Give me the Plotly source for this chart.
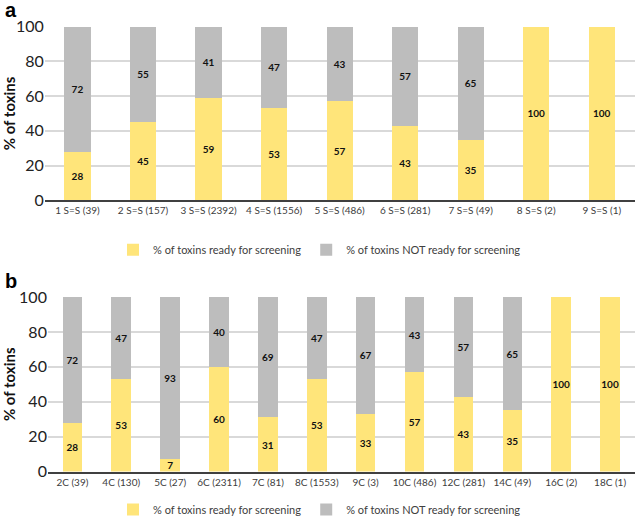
import plotly.graph_objects as go
from plotly.subplots import make_subplots

# panel a: number of S=S bonds (n toxins)
cats_a = ["1 S=S (39)", "2 S=S (157)", "3 S=S (2392)", "4 S=S (1556)", "5 S=S (486)",
          "6 S=S (281)", "7 S=S (49)", "8 S=S (2)", "9 S=S (1)"]
ready_a = [28, 45, 59, 53, 57, 43, 35, 100, 100]
not_ready_a = [72, 55, 41, 47, 43, 57, 65, 0, 0]

# panel b: number of cysteines (n toxins)
cats_b = ["2C (39)", "4C (130)", "5C (27)", "6C (2311)", "7C (81)", "8C (1553)",
          "9C (3)", "10C (486)", "12C (281)", "14C (49)", "16C (2)", "18C (1)"]
ready_b = [28, 53, 7, 60, 31, 53, 33, 57, 43, 35, 100, 100]
not_ready_b = [72, 47, 93, 40, 69, 47, 67, 43, 57, 65, 0, 0]

y_ticks = [0, 20, 40, 60, 80, 100]

YELLOW = "#FFE57A"
GRAY = "#BDBDBD"
FONT = "Lato"


def labels(vals):
    return [str(v) if v else "" for v in vals]


fig = make_subplots(rows=2, cols=1)

panels = [(1, cats_a, ready_a, not_ready_a, "legend"),
          (2, cats_b, ready_b, not_ready_b, "legend2")]
for row, cats, ready, not_ready, leg in panels:
    fig.add_trace(go.Bar(x=cats, y=ready, name="% of toxins ready for screening",
                         marker=dict(color=YELLOW, line_width=0),
                         text=labels(ready), legend=leg), row=row, col=1)
    fig.add_trace(go.Bar(x=cats, y=not_ready, name="% of toxins NOT ready for screening",
                         marker=dict(color=GRAY, line_width=0),
                         text=labels(not_ready), legend=leg), row=row, col=1)

fig.update_traces(textposition="inside", insidetextanchor="middle", constraintext="none",
                  textfont=dict(family=FONT, size=10, color="#111111", weight="bold"),
                  textangle=0, hoverinfo="skip")

legend_style = dict(orientation="h", x=0.5, xanchor="center", yanchor="middle",
                    traceorder="normal", font=dict(size=11, color="#404040"), itemwidth=30)

fig.update_layout(
    width=639, height=524,
    margin=dict(l=0, r=0, t=0, b=0),
    barmode="stack", bargap=0.6,
    plot_bgcolor="white", paper_bgcolor="white",
    font=dict(family=FONT, color="#404040"),
    xaxis=dict(domain=[0.070, 0.993], anchor="y"),
    xaxis2=dict(domain=[0.075, 0.993], anchor="y2"),
    yaxis=dict(domain=[0.6126, 0.9485]),
    yaxis2=dict(domain=[0.0878, 0.4256]),
    legend=dict(legend_style, y=0.517),
    legend2=dict(legend_style, y=0.014),
)

fig.update_xaxes(showgrid=False, showline=True, linecolor="#404040", linewidth=2,
                 ticks="", tickangle=0, automargin=False,
                 tickfont=dict(size=10, color="#404040"), fixedrange=True)
fig.update_yaxes(range=[0, 100], tickvals=y_ticks, showgrid=True, gridcolor="#D9D9D9",
                 gridwidth=1.5, zeroline=False, showline=False, ticks="", automargin=False,
                 tickfont=dict(size=16, color="#222222"),
                 title=dict(text="% of toxins", font=dict(size=15, color="#111111", weight="bold"),
                            standoff=6))

fig.add_annotation(text="<b>a</b>", x=0.004, y=1.005, xref="paper", yref="paper",
                   xanchor="left", yanchor="top", showarrow=False,
                   font=dict(family="Liberation Sans", size=20, color="black"))
fig.add_annotation(text="<b>b</b>", x=0.004, y=0.482, xref="paper", yref="paper",
                   xanchor="left", yanchor="top", showarrow=False,
                   font=dict(family="Liberation Sans", size=20, color="black"))

# drop the browser's default page margin so the figure sits at the window's corner
fig.write_html("out.html", config={"displayModeBar": False},
               post_script="document.body.style.margin='0';"
                           "document.body.style.overflow='hidden';")
